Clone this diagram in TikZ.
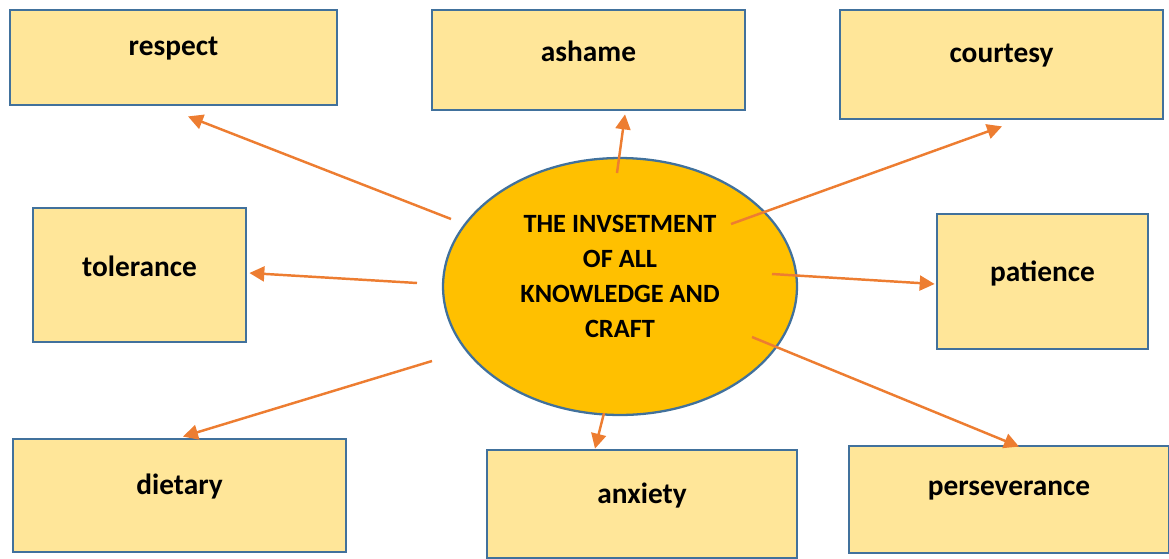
\documentclass[tikz,border=0pt]{standalone}
\usepackage{fontspec}
\setmainfont{Carlito}
\usetikzlibrary{shapes.geometric,arrows.meta,calc}
\definecolor{boxfill}{HTML}{FFE699}
\definecolor{boxline}{HTML}{41719C}
\definecolor{hubfill}{HTML}{FFC000}
\definecolor{arrowcol}{HTML}{ED7D31}
\tikzset{
    box/.style={rectangle, draw=boxline, fill=boxfill, line width=1.6pt, inner sep=0pt},
    word/.style={font=\bfseries\fontsize{16.7}{20}\selectfont, yshift=0.17cm},
    link/.style={draw=arrowcol, line width=1.4pt, -{Triangle[length=8.5pt,width=8.5pt]}}
}
\begin{document}
\begin{tikzpicture}[x=0.02cm, y=-0.02cm]
            \useasboundingbox (0, 0) rectangle (1169, 558);

            \node[box, minimum width=6.54cm, minimum height=1.9cm] (respect) at (173.5, 57.5){};
            \node[box, minimum width=6.26cm, minimum height=2cm] (ashame) at (588.5, 60){};
            \node[box, minimum width=6.46cm, minimum height=2.18cm] (courtesy) at (1001.5, 64.5){};
            \node[box, minimum width=4.26cm, minimum height=2.68cm] (tolerance) at (139.5, 275){};
            \node[box, minimum width=4.22cm, minimum height=2.7cm] (patience) at (1042.5, 281.5){};
            \node[box, minimum width=6.66cm, minimum height=2.26cm] (dietary) at (179.5, 495.5){};
            \node[box, minimum width=6.2cm, minimum height=2.16cm] (anxiety) at (642, 504){};
            \node[box, minimum width=6.4cm, minimum height=2.14cm] (perseverance) at (1009, 499.5){};

            \node[word] at (respect){respect};
            \node[word] at (ashame){ashame};
            \node[word] at (courtesy){courtesy};
            \node[word] at (tolerance){tolerance};
            \node[word] at (patience){patience};
            \node[word] at (dietary){dietary};
            \node[word] at (anxiety){anxiety};
            \node[word] at (perseverance){perseverance};

            \node[ellipse, draw=boxline, fill=hubfill, line width=1.3pt, inner sep=0pt,
                minimum width=7.08cm, minimum height=5.14cm] (hub) at (620, 286.5){};
            \node[align=center, font=\bfseries\fontsize{15}{19.8}\selectfont, yshift=0.2cm] at (hub)
                {THE INVSETMENT\\OF ALL\\KNOWLEDGE AND\\CRAFT};

            \draw[link] ($(hub)+(-169, -67.5)$) -- ($(respect.south)+(14.5, 10)$);
            \draw[link] ($(hub)+(-3, -113.5)$) -- ($(ashame.south)+(36.5, 3)$);
            \draw[link] ($(hub)+(111, -62.5)$) -- ($(courtesy.south)+(0.5, 6)$);
            \draw[link] ($(hub)+(-203, -3.5)$) -- ($(tolerance.east)+(2, -2)$);
            \draw[link] ($(hub)+(152, -12.5)$) -- ($(patience.west)+(-1, 2.5)$);
            \draw[link] ($(hub)+(-188, 74.5)$) -- ($(dietary.north)+(3.5, -1)$);
            \draw[link] ($(hub)+(-16, 126.5)$) -- ($(anxiety.north)+(-47, 0)$);
            \draw[link] ($(hub)+(132, 50.5)$) -- ($(perseverance.north)+(10, 2)$);
        \end{tikzpicture}
\end{document}
